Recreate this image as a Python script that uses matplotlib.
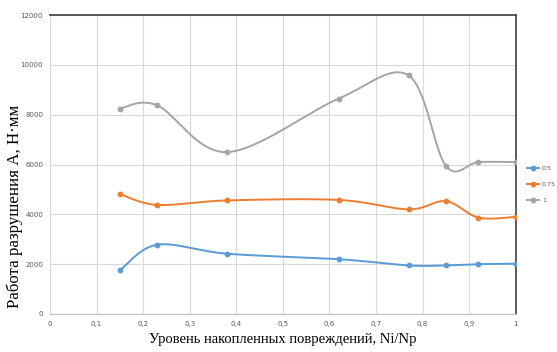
import numpy as np
import matplotlib
matplotlib.use("Agg")
import matplotlib.pyplot as plt
from matplotlib.ticker import FixedLocator

# damage level Ni/Np
x_vals = [0.15, 0.23, 0.38, 0.62, 0.77, 0.85, 0.92, 1.0]
# fracture work, N*mm
work_05 = [1750, 2780, 2420, 2200, 1950, 1950, 2000, 2020]
work_075 = [4820, 4380, 4560, 4580, 4200, 4530, 3870, 3900]
work_1 = [8250, 8380, 6500, 8650, 9580, 5950, 6100, 6100]
series_labels = ["0.5", "0.75", "1"]
x_tick_labels = ["0", "0,1", "0,2", "0,3", "0,4", "0,5", "0,6", "0,7", "0,8", "0,9", "1"]
y_ticks = [0, 2000, 4000, 6000, 8000, 10000, 12000]

colors = ["#5B9BD5", "#ED7D31", "#A5A5A5"]


def smooth(xs, ys, n=30):
    # Excel-like smoothing: cubic bezier with catmull-rom control points
    xs = np.asarray(xs, float)
    ys = np.asarray(ys, float)
    pts = np.column_stack([xs, ys])
    out = []
    for i in range(len(pts) - 1):
        p0 = pts[i - 1] if i > 0 else pts[i]
        p1 = pts[i]
        p2 = pts[i + 1]
        p3 = pts[i + 2] if i + 2 < len(pts) else pts[i + 1]
        c1 = p1 + (p2 - p0) / 6.0
        c2 = p2 - (p3 - p1) / 6.0
        t = np.linspace(0, 1, n)[:, None]
        seg = ((1 - t) ** 3) * p1 + 3 * ((1 - t) ** 2) * t * c1 + 3 * (1 - t) * t ** 2 * c2 + t ** 3 * p2
        out.append(seg if i == 0 else seg[1:])
    seg = np.vstack(out)
    return seg[:, 0], seg[:, 1]


fig = plt.figure(figsize=(5.57, 3.52), dpi=100)
ax = fig.add_axes([0.0898, 0.108, 0.836, 0.849])

handles = []
for ys, col, lab in zip([work_05, work_075, work_1], colors, series_labels):
    sx, sy = smooth(x_vals, ys)
    ax.plot(sx, sy, color=col, lw=1.4, zorder=3)
    ax.plot(x_vals, ys, 'o', color=col, ms=3.2, zorder=4)
    h, = ax.plot([], [], '-o', color=col, lw=1.4, ms=3.2, label=lab)
    handles.append(h)

ax.set_xlim(0, 1)
ax.set_ylim(0, 12000)
ax.xaxis.set_major_locator(FixedLocator(np.linspace(0, 1, 11)))
ax.set_xticklabels(x_tick_labels)
ax.set_yticks(y_ticks)
ax.grid(True, color="#d9d9d9", lw=0.8)
ax.set_axisbelow(True)
ax.tick_params(length=0, labelsize=5, colors="#595959", pad=5)

ax.spines["left"].set_visible(False)
ax.spines["bottom"].set_color("#bfbfbf")
ax.spines["top"].set_color("#404040")
ax.spines["top"].set_linewidth(1.2)
ax.spines["right"].set_color("#404040")
ax.spines["right"].set_linewidth(1.2)

ax.set_xlabel("Уровень накопленных повреждений, Ni/Np", family="Liberation Serif",
              fontsize=10.5, va="center")
ax.xaxis.set_label_coords(0.5, -0.087)
ax.set_ylabel("Работа разрушения А, Н·мм", family="Liberation Serif",
              fontsize=12.2, va="center")
ax.yaxis.set_label_coords(-0.076, 0.361)

fig.legend(handles=handles, loc="upper left", bbox_to_anchor=(0.935, 0.545),
           frameon=False, fontsize=4.6, handlelength=2.0, labelspacing=1.6,
           handletextpad=0.4, labelcolor="#595959")

fig.savefig("out.png", dpi=100)
